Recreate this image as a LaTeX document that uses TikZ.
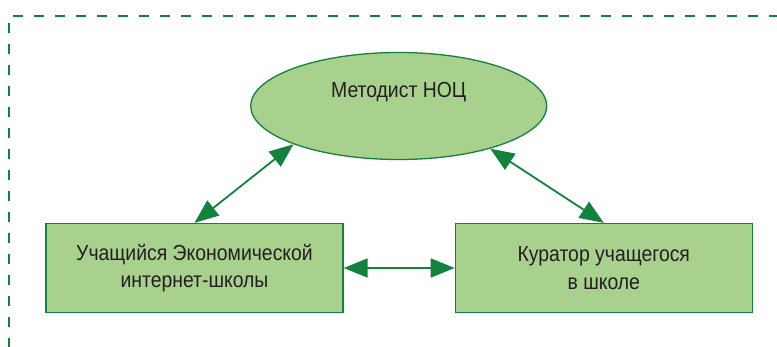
\documentclass[tikz,border=0pt]{standalone}
\usepackage{fontspec}
\setmainfont{Liberation Sans}[FakeStretch=0.89]
\usetikzlibrary{arrows.meta, positioning, shapes.geometric}

\definecolor{linegreen}{RGB}{18,130,62}
\definecolor{fillgreen}{RGB}{169,209,142}
\definecolor{textgray}{RGB}{35,31,32}

\tikzset{
    box/.style={draw=linegreen, line width=1.3pt, fill=fillgreen, text=textgray,
        minimum width=297pt, minimum height=89pt, align=center,
        font=\fontsize{21.8}{27.5}\selectfont},
    oval/.style={ellipse, draw=linegreen, line width=1.3pt, fill=fillgreen, text=textgray,
        minimum width=296pt, minimum height=107pt,
        text height=16pt, text depth=32pt,
        font=\fontsize{21.8}{27.5}\selectfont},
    link/.style={{Triangle[length=24pt,width=19pt]}-{Triangle[length=24pt,width=19pt]},
        draw=linegreen, line width=1.8pt},
}

\begin{document}
\begin{tikzpicture}[x=1pt, y=-1pt, node distance=111pt]
    \clip (0,0) rectangle (777,347);
    % рамка
    \draw[linegreen, line width=2.2pt, dash pattern=on 10pt off 11pt]
        (800,16) -- (9,16) -- (9,360);

    \node[oval]                      (Metodist) at (398.7,106) {Методист НОЦ};
    \node[box]                       (Student)  at (194.5,268) {Учащийся Экономической\\интернет-школы};
    \node[box, right=111pt of Student] (Kurator)              {Куратор учащегося\\в школе};

    \draw[link] (Student.north) -- (Metodist.-160);
    \draw[link] (Kurator.north) -- (Metodist.-25);
    \draw[link] (Student.east)  -- (Kurator.west);
\end{tikzpicture}
\end{document}
